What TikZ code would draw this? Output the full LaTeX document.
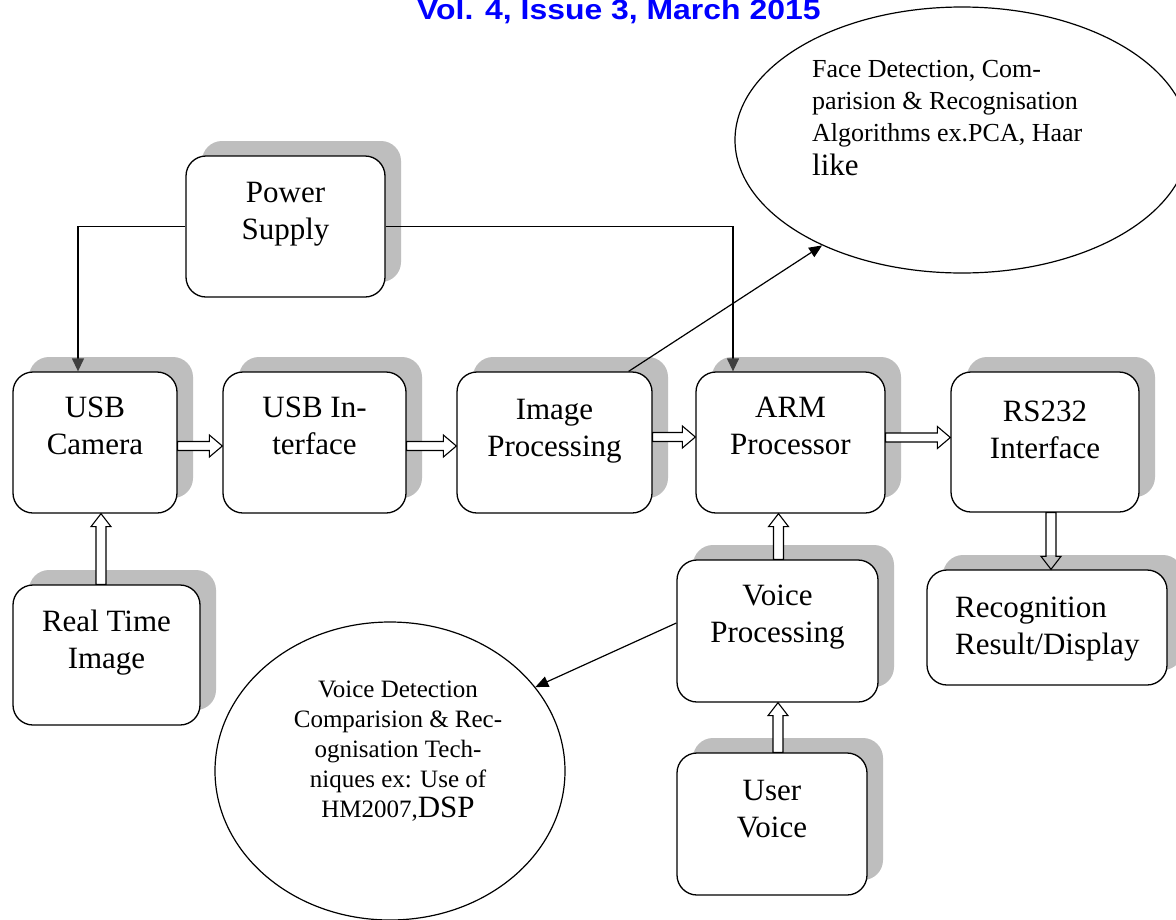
\documentclass[tikz,border=0pt]{standalone}
\usepackage{fontspec}
\usepackage{graphicx}
\setmainfont{Liberation Serif}
\newfontfamily\hdrfont{Liberation Sans}
\usetikzlibrary{calc,arrows.meta,shapes.geometric,shadows}
\definecolor{shadowgray}{RGB}{190,190,190}
\definecolor{hdrblue}{RGB}{0,0,255}
\definecolor{tipgray}{RGB}{64,64,64}
\newcommand{\RightBlock}[3][white]{%
  \draw[blockline,fill=#1] let \p1=(#2), \p2=(#3) in
    (\x1,\y1+4.5pt) -- (\x2-13pt,\y1+4.5pt) -- (\x2-13pt,\y1+11pt) -- (\x2,\y1)
    -- (\x2-13pt,\y1-11pt) -- (\x2-13pt,\y1-4.5pt) -- (\x1,\y1-4.5pt) -- cycle;}
\newcommand{\UpBlock}[3][white]{%
  \draw[blockline,fill=#1] let \p1=(#2), \p2=(#3) in
    (\x1-5pt,\y1) -- (\x1-5pt,\y2-13pt) -- (\x1-10pt,\y2-13pt) -- (\x1,\y2)
    -- (\x1+10pt,\y2-13pt) -- (\x1+5pt,\y2-13pt) -- (\x1+5pt,\y1) -- cycle;}
\newcommand{\DownBlock}[3][white]{%
  \draw[blockline,fill=#1] let \p1=(#2), \p2=(#3) in
    (\x1-5pt,\y1) -- (\x1-5pt,\y2+13pt) -- (\x1-10pt,\y2+13pt) -- (\x1,\y2)
    -- (\x1+10pt,\y2+13pt) -- (\x1+5pt,\y2+13pt) -- (\x1+5pt,\y1) -- cycle;}
\begin{document}
\begin{tikzpicture}[x=1pt,y=-1pt,
  box/.style={draw, line width=1.3pt, rounded corners=20pt, fill=white, inner sep=0pt,
    drop shadow={shadow xshift=16pt,shadow yshift=15pt,fill=shadowgray,opacity=1}},
  lbl/.style={font=\fontsize{31}{37}\selectfont, align=center, inner sep=0pt, anchor=north},
  ell/.style={draw, ellipse, line width=1.2pt, inner sep=0pt, fill=white},
  blockline/.style={line width=1.1pt, line join=miter},
  pwr/.style={line width=1.3pt, -{Triangle[length=13pt,width=12pt,color=tipgray]}},
  thinarrow/.style={line width=1.2pt, -{Triangle[length=13pt,width=11pt]}}]
\useasboundingbox (0,0) rectangle (1176,919);
\clip (0,0) rectangle (1176,919);
\fill[white] (0,0) rectangle (1176,919);

% header
\node[anchor=base west, inner sep=0pt, text=hdrblue, font=\hdrfont\bfseries\fontsize{28}{30}\selectfont] (hdr) at (417,19) {\scalebox{1.14}[1]{Vol. 4, Issue 3, March 2015}};

% ellipses
\node[ell, minimum width=454pt, minimum height=266pt] (face) at (962,140) {};
\node[font=\fontsize{26}{32}\selectfont, align=left, anchor=north west, inner sep=0pt] (face-t) at (812,60)
  {Face Detection, Com-\\parision \& Recognisation\\Algorithms ex.PCA, Haar\\[2pt]{\fontsize{31}{34}\selectfont like}};
\node[ell, minimum width=350pt, minimum height=298pt] (voice) at (390,771) {};
\node[font=\fontsize{25}{30}\selectfont, align=center, anchor=north, inner sep=0pt] (voice-t) at (398,681)
  {Voice Detection\\Comparision \& Rec-\\ognisation Tech-\\niques ex: Use of\\HM2007,{\fontsize{31}{34}\selectfont DSP}};

% boxes
\node[box, minimum width=199pt, minimum height=141pt] (ps) at (285.5,226.5) {};
\node[box, minimum width=164pt, minimum height=141pt] (cam) at (95,442.5) {};
\node[box, minimum width=183pt, minimum height=141pt] (usbif) at (314.5,442.5) {};
\node[box, minimum width=195pt, minimum height=141pt] (imgp) at (554.5,442.5) {};
\node[box, minimum width=189pt, minimum height=141pt] (arm) at (790.5,442.5) {};
\node[box, minimum width=188pt, minimum height=140pt] (rs) at (1045,442) {};
\node[box, minimum width=240pt, minimum height=115pt] (rec) at (1047,627.5) {};
\node[box, minimum width=187pt, minimum height=140pt] (rti) at (106.5,655) {};
\node[box, minimum width=201pt, minimum height=142pt] (vp) at (777.5,631) {};
\node[box, minimum width=190pt, minimum height=142pt] (uv) at (772,824) {};

% box labels
\node[lbl] (ps-t) at (ps.center |- 0,182) {Power\\Supply};
\node[lbl] (cam-t) at (cam.center |- 0,397) {USB\\Camera};
\node[lbl] (usbif-t) at (usbif.center |- 0,397) {USB In-\\terface};
\node[lbl] (imgp-t) at (imgp.center |- 0,399) {Image\\Processing};
\node[lbl] (arm-t) at (arm.center |- 0,397) {ARM\\Processor};
\node[lbl] (rs-t) at (rs.center |- 0,401) {RS232\\Interface};
\node[lbl, align=left, anchor=north west] (rec-t) at (955,597) {Recognition\\Result/Display};
\node[lbl] (rti-t) at (rti.center |- 0,610) {Real Time\\Image};
\node[lbl] (vp-t) at (vp.center |- 0,585) {Voice\\Processing};
\node[lbl] (uv-t) at (uv.center |- 0,780) {User\\Voice};

% thin connectors
\draw[pwr] (ps.west) -| (cam.north -| 78,0);
\draw[pwr] (ps.east) -| (arm.north -| 733,0);
\draw[thinarrow] ($(imgp.north east)+(-24,0)$) -- (face.217);
\draw[thinarrow] ($(vp.west)+(0,-8)$) -- (voice.30);

% block arrows
\RightBlock{cam.east |- 0,446}{usbif.west}
\RightBlock{usbif.east |- 0,446}{imgp.west}
\RightBlock{imgp.east |- 0,437}{arm.west}
\RightBlock{arm.east |- 0,437.5}{rs.west}
\UpBlock{rti.north -| 101,0}{cam.south}
\UpBlock{vp.north -| 778.5,0}{arm.south}
\UpBlock{uv.north -| 778,0}{vp.south}
\DownBlock[none]{rs.south -| 1051,0}{rec.north}
\end{tikzpicture}
\end{document}
